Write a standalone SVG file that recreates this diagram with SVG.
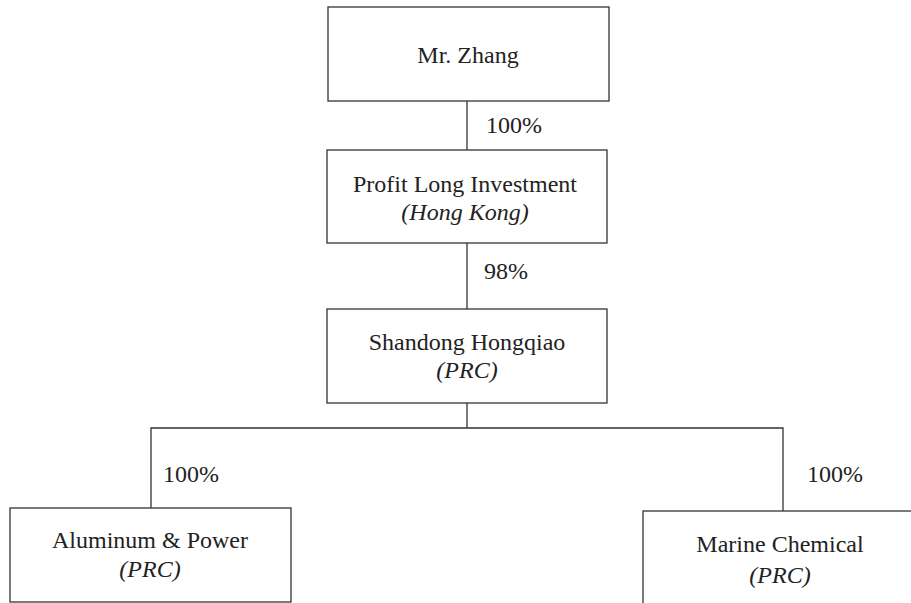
<svg xmlns="http://www.w3.org/2000/svg" width="911" height="603" viewBox="0 0 911 603">
<style>
.box{fill:#fff;stroke:#333;stroke-width:1.3}
.ln{fill:none;stroke:#333;stroke-width:1.3}
text{font-family:"Liberation Serif","Times New Roman",serif;font-size:24px;fill:#222}
.c{text-anchor:middle}
.i{font-style:italic}
</style>
<rect width="911" height="603" fill="#fff"/>
<g id="connectors">
<line class="ln" x1="467" y1="101" x2="467" y2="150"/>
<line class="ln" x1="467" y1="243" x2="467" y2="309"/>
<polyline class="ln" points="151,508 151,428 783,428 783,511"/>
<line class="ln" x1="467" y1="403" x2="467" y2="428"/>
<text x="486" y="133">100%</text>
<text x="484" y="279">98%</text>
<text x="163" y="482">100%</text>
<text x="807" y="482">100%</text>
</g>
<g id="mr-zhang">
<rect class="box" x="328" y="7" width="281" height="94"/>
<text class="c" x="468" y="63">Mr. Zhang</text>
</g>
<g id="profit-long">
<rect class="box" x="327" y="150" width="280" height="93"/>
<text class="c" x="465" y="192">Profit Long Investment</text>
<text class="c i" x="465" y="220">(Hong Kong)</text>
</g>
<g id="shandong-hongqiao">
<rect class="box" x="327" y="309" width="280" height="94"/>
<text class="c" x="467" y="350">Shandong Hongqiao</text>
<text class="c i" x="467" y="378">(PRC)</text>
</g>
<g id="aluminum-power">
<rect class="box" x="10" y="508" width="281" height="94"/>
<text class="c" x="150" y="548">Aluminum &amp; Power</text>
<text class="c i" x="150" y="577">(PRC)</text>
</g>
<g id="marine-chemical">
<rect class="box" x="643" y="511" width="280" height="100"/>
<text class="c" x="780" y="552">Marine Chemical</text>
<text class="c i" x="780" y="583">(PRC)</text>
</g>
</svg>
